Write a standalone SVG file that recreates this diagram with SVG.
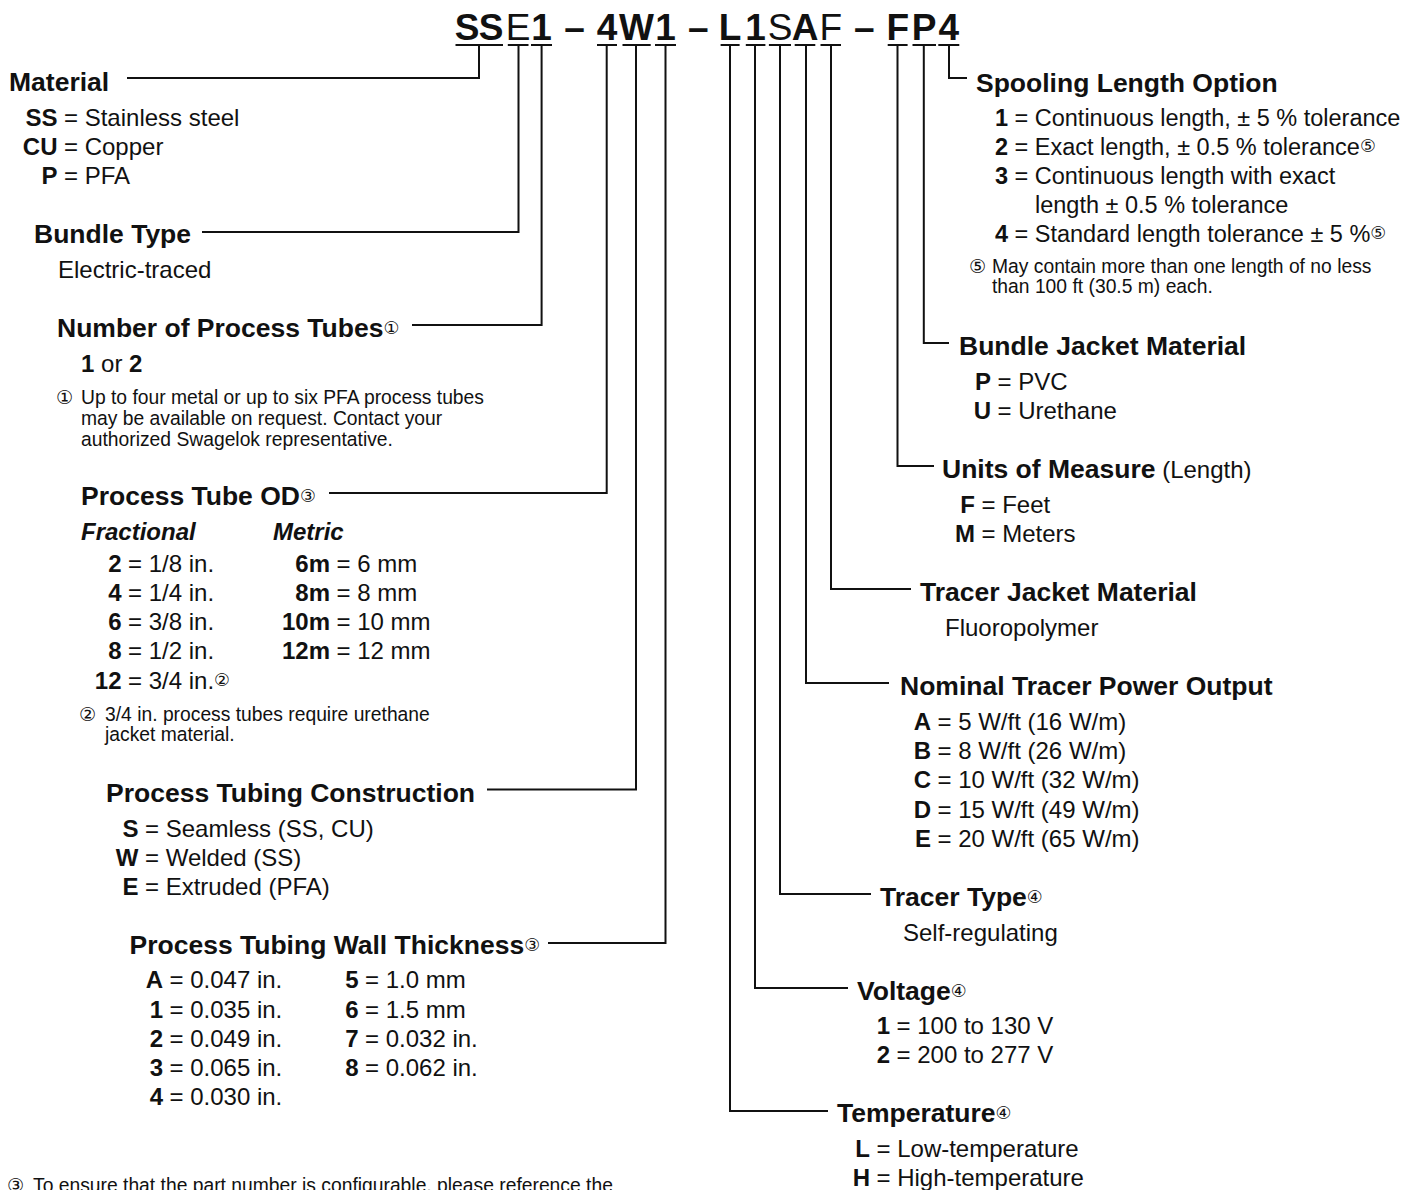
<svg xmlns="http://www.w3.org/2000/svg" width="1404" height="1190" viewBox="0 0 1404 1190">
<style>
text{font-family:"Liberation Sans",Arial,Helvetica,sans-serif;fill:#111}
.t{font-size:37px;font-weight:bold;text-anchor:middle}
.r{font-weight:normal}
.h{font-size:26.5px;font-weight:bold}
.b{font-size:24px}
.k{font-size:24px;font-weight:bold;text-anchor:end}
.s{font-size:23.5px}
.sk{font-size:23.5px;font-weight:bold;text-anchor:end}
.bi{font-size:24px;font-weight:bold;font-style:italic}
.fn{font-size:19.3px}
.sup{font-family:"DejaVu Sans","Noto Sans CJK JP",sans-serif;font-size:17.5px;font-weight:normal}
.fs{font-family:"DejaVu Sans","Noto Sans CJK JP",sans-serif;font-size:19px}
.ln{stroke:#111;stroke-width:2;fill:none}
</style>
<rect width="1404" height="1190" fill="#fff"/>

<g id="part-number">
<text class="t" y="40"><tspan x="467">S</tspan><tspan x="491">S</tspan><tspan class="r" x="518">E</tspan><tspan x="541.5">1</tspan><tspan x="574.5">–</tspan><tspan x="607">4</tspan><tspan x="636.5">W</tspan><tspan x="665.5">1</tspan><tspan x="698.3">–</tspan><tspan x="730">L</tspan><tspan x="755.5">1</tspan><tspan class="r" x="780">S</tspan><tspan x="805">A</tspan><tspan class="r" x="830.7">F</tspan><tspan x="864.4">–</tspan><tspan x="897.7">F</tspan><tspan x="924">P</tspan><tspan x="948.8">4</tspan></text>
</g>

<g id="connectors" class="ln">
<path d="M455.5 45H503M507.8 45H528.5M531 45H552M597 45H617M622.5 45H650.7M655 45H676M720.6 45H739.6M745.8 45H765.4M768.9 45H791M794.7 45H815.3M820.5 45H841M887.7 45H907.6M912.5 45H936M938.3 45H959.3"/>
<path d="M479 45V78H127"/>
<path d="M518.5 45V232H202"/>
<path d="M541.6 45V325H412"/>
<path d="M606.7 45V493H329"/>
<path d="M636 45V789.5H487"/>
<path d="M665.5 45V943H548"/>
<path d="M730 45V1111H828"/>
<path d="M755 45V988H848"/>
<path d="M780 45V894H871"/>
<path d="M806 45V683H889"/>
<path d="M831 45V589H911"/>
<path d="M897.5 45V466H934"/>
<path d="M923.8 45V343H949"/>
<path d="M949 45V78H967"/>
</g>

<g id="material">
<text class="h" x="9" y="91">Material</text>
<text class="k" x="57.5" y="126">SS</text><text class="b" x="64" y="126">= Stainless steel</text>
<text class="k" x="57.5" y="155">CU</text><text class="b" x="64" y="155">= Copper</text>
<text class="k" x="57.5" y="184">P</text><text class="b" x="64" y="184">= PFA</text>
</g>

<g id="bundle-type">
<text class="h" x="34" y="243">Bundle Type</text>
<text class="b" x="58" y="278">Electric-traced</text>
</g>

<g id="number-of-tubes">
<text class="h" x="57" y="337">Number of Process Tubes<tspan class="sup" dy="-3">①</tspan></text>
<text class="b" x="81" y="372"><tspan font-weight="bold">1</tspan> or <tspan font-weight="bold">2</tspan></text>
<text class="fs" x="56" y="404">①</text>
<text class="fn" x="81" y="404">Up to four metal or up to six PFA process tubes</text>
<text class="fn" x="81" y="425">may be available on request. Contact your</text>
<text class="fn" x="81" y="446">authorized Swagelok representative.</text>
</g>

<g id="tube-od">
<text class="h" x="81" y="505">Process Tube OD<tspan class="sup" dy="-3">③</tspan></text>
<text class="bi" x="81" y="540">Fractional</text>
<text class="bi" x="273" y="540">Metric</text>
<text class="k" x="121.5" y="571.7">2</text><text class="b" x="128" y="571.7">= 1/8 in.</text>
<text class="k" x="121.5" y="600.9">4</text><text class="b" x="128" y="600.9">= 1/4 in.</text>
<text class="k" x="121.5" y="630.1">6</text><text class="b" x="128" y="630.1">= 3/8 in.</text>
<text class="k" x="121.5" y="659.3">8</text><text class="b" x="128" y="659.3">= 1/2 in.</text>
<text class="k" x="121.5" y="688.5">12</text><text class="b" x="128" y="688.5">= 3/4 in.<tspan class="sup" dy="-3">②</tspan></text>
<text class="k" x="330" y="571.7">6m</text><text class="b" x="336.5" y="571.7">= 6 mm</text>
<text class="k" x="330" y="600.9">8m</text><text class="b" x="336.5" y="600.9">= 8 mm</text>
<text class="k" x="330" y="630.1">10m</text><text class="b" x="336.5" y="630.1">= 10 mm</text>
<text class="k" x="330" y="659.3">12m</text><text class="b" x="336.5" y="659.3">= 12 mm</text>
<text class="fs" x="79" y="721">②</text>
<text class="fn" x="105" y="721">3/4 in. process tubes require urethane</text>
<text class="fn" x="105" y="741">jacket material.</text>
</g>

<g id="tubing-construction">
<text class="h" x="106" y="802">Process Tubing Construction</text>
<text class="k" x="138.5" y="836.7">S</text><text class="b" x="145" y="836.7">= Seamless (SS, CU)</text>
<text class="k" x="138.5" y="866">W</text><text class="b" x="145" y="866">= Welded (SS)</text>
<text class="k" x="138.5" y="895.2">E</text><text class="b" x="145" y="895.2">= Extruded (PFA)</text>
</g>

<g id="wall-thickness">
<text class="h" x="129.5" y="953.5">Process Tubing Wall Thickness<tspan class="sup" dy="-3">③</tspan></text>
<text class="k" x="163" y="988.3">A</text><text class="b" x="169.5" y="988.3">= 0.047 in.</text>
<text class="k" x="163" y="1017.5">1</text><text class="b" x="169.5" y="1017.5">= 0.035 in.</text>
<text class="k" x="163" y="1046.7">2</text><text class="b" x="169.5" y="1046.7">= 0.049 in.</text>
<text class="k" x="163" y="1075.9">3</text><text class="b" x="169.5" y="1075.9">= 0.065 in.</text>
<text class="k" x="163" y="1105.1">4</text><text class="b" x="169.5" y="1105.1">= 0.030 in.</text>
<text class="k" x="358.5" y="988.3">5</text><text class="b" x="365" y="988.3">= 1.0 mm</text>
<text class="k" x="358.5" y="1017.5">6</text><text class="b" x="365" y="1017.5">= 1.5 mm</text>
<text class="k" x="358.5" y="1046.7">7</text><text class="b" x="365" y="1046.7">= 0.032 in.</text>
<text class="k" x="358.5" y="1075.9">8</text><text class="b" x="365" y="1075.9">= 0.062 in.</text>
</g>

<g id="footnote-3">
<text class="fs" x="7" y="1192">③</text>
<text class="fn" x="33" y="1192">To ensure that the part number is configurable, please reference the</text>
</g>

<g id="spooling-length">
<text class="h" x="976" y="91.5">Spooling Length Option</text>
<text class="sk" x="1008" y="126">1</text><text class="s" x="1014.5" y="126">= Continuous length, ± 5 % tolerance</text>
<text class="sk" x="1008" y="155">2</text><text class="s" x="1014.5" y="155">= Exact length, ± 0.5 % tolerance<tspan class="sup" dy="-3">⑤</tspan></text>
<text class="sk" x="1008" y="184">3</text><text class="s" x="1014.5" y="184">= Continuous length with exact</text>
<text class="s" x="1035" y="213">length ± 0.5 % tolerance</text>
<text class="sk" x="1008" y="242">4</text><text class="s" x="1014.5" y="242">= Standard length tolerance ± 5 %<tspan class="sup" dy="-3">⑤</tspan></text>
<text class="fs" x="969" y="273">⑤</text>
<text class="fn" x="992" y="273">May contain more than one length of no less</text>
<text class="fn" x="992" y="293">than 100 ft (30.5 m) each.</text>
</g>

<g id="bundle-jacket">
<text class="h" x="959" y="355">Bundle Jacket Material</text>
<text class="k" x="991" y="390">P</text><text class="b" x="997.5" y="390">= PVC</text>
<text class="k" x="991" y="419">U</text><text class="b" x="997.5" y="419">= Urethane</text>
</g>

<g id="units">
<text class="h" x="942" y="478">Units of Measure<tspan font-size="24" font-weight="normal"> (Length)</tspan></text>
<text class="k" x="975" y="513">F</text><text class="b" x="981.5" y="513">= Feet</text>
<text class="k" x="975" y="542">M</text><text class="b" x="981.5" y="542">= Meters</text>
</g>

<g id="tracer-jacket">
<text class="h" x="920" y="601">Tracer Jacket Material</text>
<text class="b" x="945" y="636">Fluoropolymer</text>
</g>

<g id="power-output">
<text class="h" x="900" y="695">Nominal Tracer Power Output</text>
<text class="k" x="931" y="730">A</text><text class="b" x="937.5" y="730">= 5 W/ft (16 W/m)</text>
<text class="k" x="931" y="759.2">B</text><text class="b" x="937.5" y="759.2">= 8 W/ft (26 W/m)</text>
<text class="k" x="931" y="788.4">C</text><text class="b" x="937.5" y="788.4">= 10 W/ft (32 W/m)</text>
<text class="k" x="931" y="817.6">D</text><text class="b" x="937.5" y="817.6">= 15 W/ft (49 W/m)</text>
<text class="k" x="931" y="846.8">E</text><text class="b" x="937.5" y="846.8">= 20 W/ft (65 W/m)</text>
</g>

<g id="tracer-type">
<text class="h" x="880" y="906">Tracer Type<tspan class="sup" dy="-3">④</tspan></text>
<text class="b" x="903" y="941">Self-regulating</text>
</g>

<g id="voltage">
<text class="h" x="857" y="1000">Voltage<tspan class="sup" dy="-3">④</tspan></text>
<text class="k" x="890" y="1034">1</text><text class="b" x="896.5" y="1034">= 100 to 130 V</text>
<text class="k" x="890" y="1063">2</text><text class="b" x="896.5" y="1063">= 200 to 277 V</text>
</g>

<g id="temperature">
<text class="h" x="837" y="1122">Temperature<tspan class="sup" dy="-3">④</tspan></text>
<text class="k" x="870" y="1157">L</text><text class="b" x="876.5" y="1157">= Low-temperature</text>
<text class="k" x="870" y="1186">H</text><text class="b" x="876.5" y="1186">= High-temperature</text>
</g>
</svg>
